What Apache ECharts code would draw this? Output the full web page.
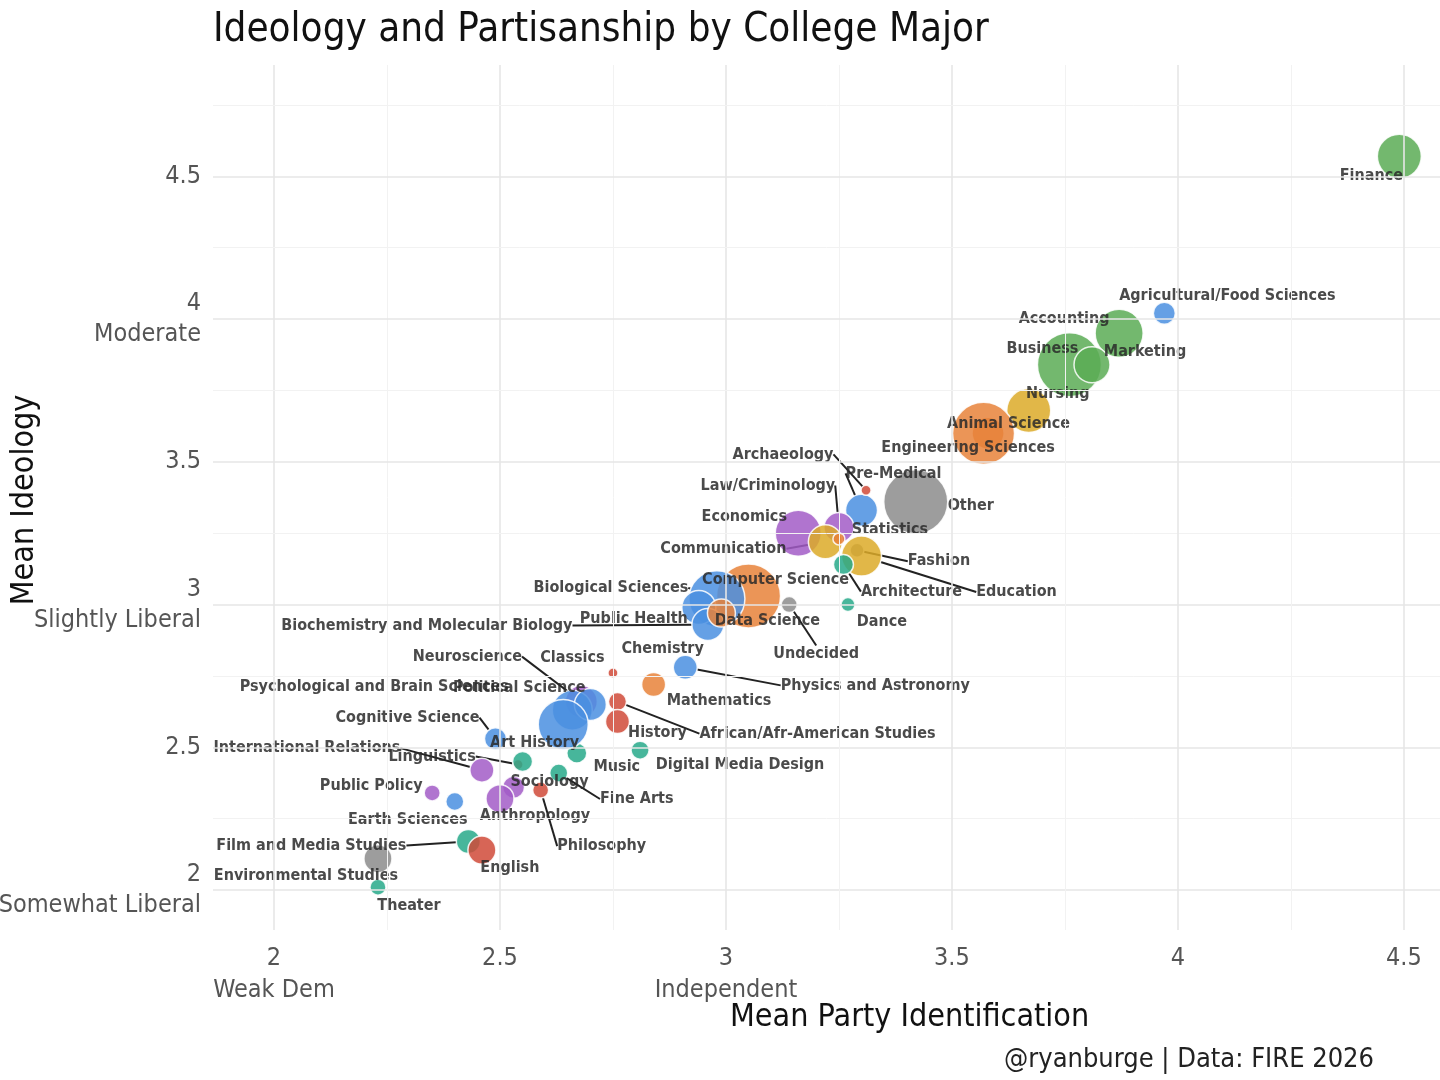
<!DOCTYPE html>
<html><head><meta charset="utf-8">
<script src="https://cdn.jsdelivr.net/npm/echarts@6/dist/echarts.min.js"></script>
<style>html,body{margin:0;padding:0;background:#fff}#c{width:1440px;height:1080px}</style>
</head><body><div id="c"></div>
<script>
const majors = ["Finance","Agricultural/Food Sciences","Accounting","Business","Marketing","Nursing","Engineering Sciences","Animal Science","Other","Pre-Medical","Archaeology","Law/Criminology","Economics","Communication","Statistics","Fashion","Education","Architecture","Computer Science","Biological Sciences","Public Health","Biochemistry and Molecular Biology","Data Science","Undecided","Dance","Physics and Astronomy","Chemistry","Mathematics","African/Afr-American Studies","History","Music","Digital Media Design","Neuroscience","Psychological and Brain Sciences","Classics","Political Science","Cognitive Science","Linguistics","Art History","International Relations","Public Policy","Earth Sciences","Fine Arts","Sociology","Anthropology","Philosophy","Film and Media Studies","English","Environmental Studies","Theater"];
const partyId = [4.49,3.97,3.87,3.76,3.81,3.67,3.58,3.57,3.42,3.30,3.31,3.25,3.16,3.22,3.25,3.29,3.30,3.26,3.05,2.98,2.94,2.96,2.99,3.14,3.27,2.91,2.84,2.75,2.76,2.76,2.67,2.81,2.68,2.66,2.70,2.64,2.49,2.54,2.55,2.46,2.35,2.40,2.63,2.53,2.50,2.59,2.43,2.46,2.23,2.23];
const ideology = [4.57,4.02,3.95,3.84,3.84,3.68,3.60,3.60,3.36,3.33,3.40,3.27,3.25,3.22,3.23,3.19,3.17,3.14,3.03,3.02,2.99,2.93,2.97,3.00,3.00,2.78,2.72,2.76,2.66,2.59,2.48,2.49,2.66,2.63,2.65,2.58,2.53,2.44,2.45,2.42,2.34,2.31,2.41,2.36,2.32,2.35,2.17,2.14,2.11,2.01];
const sampleSize = [22,11,24,32,18,22,16,31,32,16,5,15,23,17,6,7,20,10,32,28,17,16,14,8,7,12,12,5,9,12,10,9,16,20,16,25,11,5,10,12,8,9,9,11,14,8,12,14,14,8];
const group = ["green","blue","green","green","green","gold","orange","orange","gray","blue","red","purple","purple","gold","orange","gray","gold","teal","orange","blue","blue","blue","orange","gray","teal","blue","orange","red","red","red","teal","teal","purple","blue","blue","blue","blue","red","teal","purple","purple","blue","teal","purple","purple","red","teal","red","gray","teal"];
const xTicks = [2,2.5,3,3.5,4,4.5];
const xTickText = {2:"2\nWeak Dem",2.5:"2.5",3:"3\nIndependent",3.5:"3.5",4:"4",4.5:"4.5"};
const yTicks = [2,2.5,3,3.5,4,4.5];
const yTickText = {2:"2\nSomewhat Liberal",2.5:"2.5",3:"3\nSlightly Liberal",3.5:"3.5",4:"4\nModerate",4.5:"4.5"};

const palette = {green:"#5aab55",blue:"#4a8fe0",orange:"#e8823a",gold:"#dcaa28",purple:"#a25cc7",red:"#d04a38",teal:"#27a98a",gray:"#8c8c8c"};
// label offsets in px [dx, dy, showLine]
const labelPos = {
"Finance":[-28,19,0],"Agricultural/Food Sciences":[63,-18,0],"Accounting":[-55,-15,0],"Business":[-27,-16,0],"Marketing":[53,-13,0],"Nursing":[29,-17,0],"Engineering Sciences":[-20,15,0],"Animal Science":[25,-9,0],"Other":[55,4,1],"Pre-Medical":[32,-37,1],"Archaeology":[-83,-36,1],"Law/Criminology":[-71,-42,1],"Economics":[-54,-16,0],"Communication":[-102,7,1],"Statistics":[51,-9,0],"Fashion":[82,11,1],"Education":[155,36,1],"Architecture":[68,27,1],"Computer Science":[27,-16,0],"Biological Sciences":[-106,-11,1],"Public Health":[-65,11,1],"Biochemistry and Molecular Biology":[-281,1,1],"Data Science":[46,8,0],"Undecided":[27,49,1],"Dance":[34,17,0],"Physics and Astronomy":[190,18,1],"Chemistry":[9,-36,0],"Mathematics":[106,28,0],"African/Afr-American Studies":[200,32,1],"History":[40,11,0],"Music":[40,14,0],"Digital Media Design":[100,15,0],"Neuroscience":[-114,-45,1],"Psychological and Brain Sciences":[-198,-23,0],"Classics":[-18,-47,0],"Political Science":[-44,-37,1],"Cognitive Science":[-88,-21,1],"Linguistics":[-86,-8,1],"Art History":[12,-19,0],"International Relations":[-175,-22,1],"Public Policy":[-61,-7,0],"Earth Sciences":[-47,18,0],"Fine Arts":[78,26,1],"Sociology":[36,-5,0],"Anthropology":[35,17,0],"Philosophy":[61,56,1],"Film and Media Studies":[-157,4,1],"English":[28,18,0],"Environmental Studies":[-72,17,0],"Theater":[31,19,0]};

const points = majors.map((m,i)=>({
  name:m, value:[partyId[i],ideology[i],sampleSize[i]],
  itemStyle:{color:palette[group[i]]},
  labelLine:{show:!!labelPos[m][2]}
}));

const gridLines = [];
for (let v=2; v<=4.5001; v+=0.25){
  const major = Math.abs(v*2-Math.round(v*2))<1e-6;
  const ls = {color: major?'#e6e6e6':'#f2f2f2', width: major?1.6:1, type:'solid'};
  gridLines.push({xAxis:v, lineStyle:ls});
  gridLines.push({yAxis:v, lineStyle:ls});
}
gridLines.push({yAxis:4.75, lineStyle:{color:'#f2f2f2',width:1,type:'solid'}});

const FONT = "'Liberation Sans Narrow','DejaVu Sans Condensed',sans-serif";
const chart = echarts.init(document.getElementById('c'));
chart.setOption({
  backgroundColor:'#fff',
  animation:false,
  title:{text:'Ideology and Partisanship by College Major',left:208,top:6,
    textStyle:{fontFamily:FONT,fontWeight:'normal',fontSize:40,color:'#111'}},
  grid:{left:213,right:0,top:65,bottom:150,outerBoundsMode:'none',containLabel:false},
  xAxis:{type:'value',min:1.865,max:4.58,
    axisLine:{show:false},axisTick:{show:false},splitLine:{show:false},
    axisLabel:{customValues:xTicks,formatter:v=>xTickText[v]||String(v),fontFamily:FONT,fontSize:25,color:'#555',margin:12,lineHeight:32}},
  yAxis:{type:'value',min:1.86,max:4.89,
    axisLine:{show:false},axisTick:{show:false},splitLine:{show:false},
    axisLabel:{customValues:yTicks,formatter:v=>yTickText[v]||String(v),fontFamily:FONT,fontSize:25,color:'#555',margin:12,lineHeight:31,align:'right'}},
  graphic:[
    {type:'text',left:730,top:1002,style:{text:'Mean Party Identification',font:"32px "+FONT,fill:'#111'}},
    {type:'text',x:25,y:500,rotation:Math.PI/2,style:{text:'Mean Ideology',font:"32px "+FONT,fill:'#111',align:'center',verticalAlign:'middle'}},
    {type:'text',right:66,top:1046,style:{text:'@ryanburge | Data: FIRE 2026',font:"27px "+FONT,fill:'#222'}}
  ],
  series:[
    {type:'scatter',data:[],silent:true,markLine:{silent:true,symbol:'none',label:{show:false},data:gridLines}},
    {type:'scatter',data:points,
      symbolSize:v=>v[2]*2,
      itemStyle:{opacity:0.85,borderColor:'#fff',borderWidth:1.5},
      label:{show:true,position:'inside',formatter:p=>p.name,fontFamily:FONT,fontWeight:'bold',fontSize:16,color:'#2a2a2a'},
      labelLine:{show:true,lineStyle:{color:'#222',width:2}},
      labelLayout:p=>{const o=labelPos[majors[p.dataIndex]];return {dx:o[0],dy:o[1],hideOverlap:false};}
    }
  ]
});
</script></body></html>
